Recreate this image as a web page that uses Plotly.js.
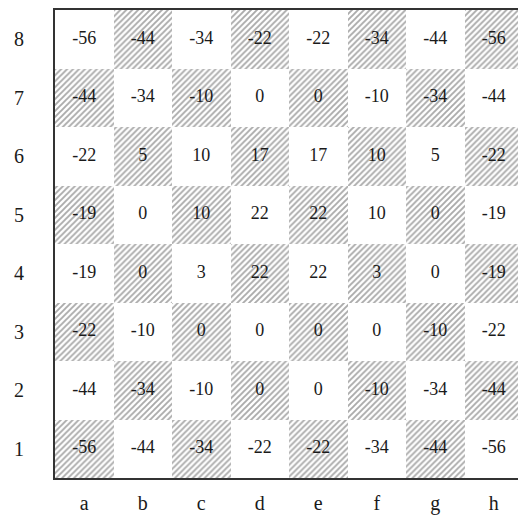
<!DOCTYPE html>
<html>
<head>
<meta charset="utf-8">
<script src="https://cdn.plot.ly/plotly-3.0.1.min.js"></script>
<style>html,body{margin:0;padding:0;background:#fff;}#chart{width:518px;height:516px;}</style>
</head>
<body>
<div id="chart"></div>
<script>
var files = ["a", "b", "c", "d", "e", "f", "g", "h"];
var ranks = [1, 2, 3, 4, 5, 6, 7, 8];
var rank8 = [-56, -44, -34, -22, -22, -34, -44, -56];
var rank7 = [-44, -34, -10, 0, 0, -10, -34, -44];
var rank6 = [-22, 5, 10, 17, 17, 10, 5, -22];
var rank5 = [-19, 0, 10, 22, 22, 10, 0, -19];
var rank4 = [-19, 0, 3, 22, 22, 3, 0, -19];
var rank3 = [-22, -10, 0, 0, 0, 0, -10, -22];
var rank2 = [-44, -34, -10, 0, 0, -10, -34, -44];
var rank1 = [-56, -44, -34, -22, -22, -34, -44, -56];
var board = [rank1, rank2, rank3, rank4, rank5, rank6, rank7, rank8];

var traces = [];
var tx = [], ty = [], tt = [];
for (var r = 0; r < ranks.length; r++) {
  var shapes = [], xs = [], ys = [], bases = [];
  for (var c = 0; c < files.length; c++) {
    var dark = (c + ranks[r]) % 2 === 1;
    shapes.push(dark ? "/" : "");
    xs.push(c);
    ys.push(1);
    bases.push(ranks[r] - 0.5);
    tx.push(c); ty.push(ranks[r]); tt.push(String(board[r][c]));
  }
  traces.push({
    type: "bar", x: xs, y: ys, base: bases, width: 1,
    marker: {
      color: "#ffffff",
      line: {width: 0},
      pattern: {shape: shapes, fgcolor: "#555555", bgcolor: "#ffffff", size: 4.2, solidity: 0.45, fillmode: "overlay"}
    },
    hoverinfo: "skip", showlegend: false
  });
}
traces.push({
  type: "scatter", mode: "text", x: tx, y: ty, text: tt,
  textfont: {family: "Liberation Serif, DejaVu Serif, serif", size: 18, color: "#1a1a1a"},
  hoverinfo: "skip", showlegend: false
});

var layout = {
  width: 518, height: 516,
  margin: {l: 55, r: 0, t: 10, b: 38},
  paper_bgcolor: "#fff", plot_bgcolor: "#fff",
  barmode: "overlay", bargap: 0,
  font: {family: "Liberation Serif, DejaVu Serif, serif", size: 20, color: "#1a1a1a"},
  xaxis: {
    range: [-0.5, -0.5 + 463 / 58.5],
    tickvals: [0, 1, 2, 3, 4, 5, 6, 7], ticktext: files,
    ticks: "outside", ticklen: 6, tickcolor: "rgba(0,0,0,0)",
    showgrid: false, zeroline: false,
    showline: true, linecolor: "#333", linewidth: 2, mirror: true,
    fixedrange: true
  },
  yaxis: {
    range: [0.5, 8.5],
    tickvals: ranks, ticktext: ranks.map(String),
    ticks: "outside", ticklen: 25, tickcolor: "rgba(0,0,0,0)",
    showgrid: false, zeroline: false,
    showline: true, linecolor: "#333", linewidth: 2, mirror: false,
    fixedrange: true
  }
};
Plotly.newPlot("chart", traces, layout, {staticPlot: true, displayModeBar: false});
</script>
</body>
</html>
